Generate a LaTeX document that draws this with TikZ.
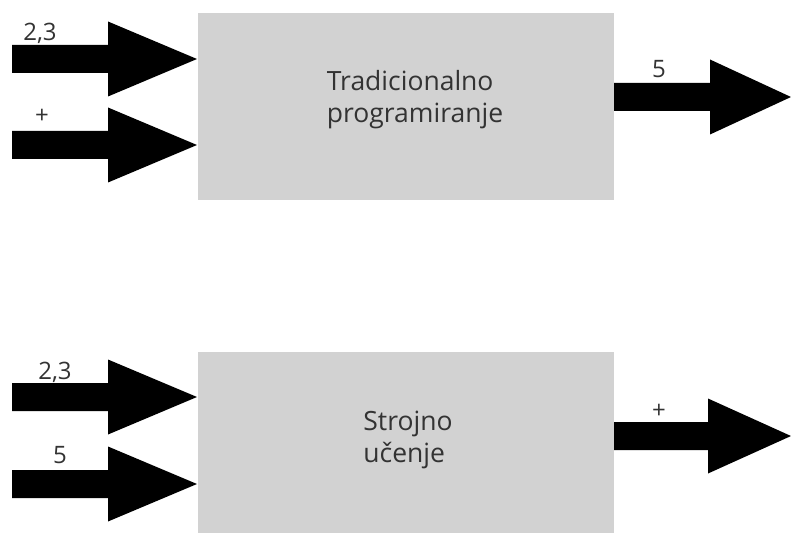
\documentclass[tikz,border=0pt]{standalone}
\usepackage{fontspec}
\setmainfont{Open Sans}
\usepackage{tikz}
\usepackage{xcolor}
\usetikzlibrary{positioning, calc}
\definecolor{boxgray}{RGB}{210,210,210}
\definecolor{textgray}{RGB}{51,51,51}

% block arrow from tail coordinate #2 to tip coordinate #3, head length #1
\newcommand{\blockarrow}[3][89]{%
  \fill[black] ($(#2)+(0,-14)$) -- ($(#3)+(-#1,-14)$) -- ($(#3)+(-#1,-37.5)$) -- (#3)
    -- ($(#3)+(-#1,37.5)$) -- ($(#3)+(-#1,14)$) -- ($(#2)+(0,14)$) -- cycle;}

\begin{document}
\begin{tikzpicture}[x=1pt, y=-1pt,
  procbox/.style={rectangle, fill=boxgray, draw=none, inner sep=0pt},
  boxtext/.style={align=left, text=textgray, font=\fontsize{26.5}{32}\selectfont},
  iolabel/.style={text=textgray, font=\fontsize{24}{28}\selectfont, inner sep=0pt}]
\useasboundingbox (0,0) rectangle (791,534);

% traditional programming
\node[procbox, minimum width=416pt, minimum height=187pt] (tradbox) at (406,106.5) {};
\node[boxtext] (tradtext) at (415,100) {Tradicionalno\\programiranje};
\coordinate (t-in1) at (12,59);
\coordinate (t-in2) at (12,145);
\coordinate (t-in1-tip) at (197,59);
\coordinate (t-in2-tip) at (197,145);
\coordinate (t-out-tail) at (tradbox.east |- 0,97);
\coordinate (t-out) at (791,97);
\blockarrow{t-in1}{t-in1-tip}
\blockarrow{t-in2}{t-in2-tip}
\blockarrow[81]{t-out-tail}{t-out}
\node[iolabel] (t-lab1) at (40,33) {2,3};
\node[iolabel] (t-lab2) at (42,116) {+};
\node[iolabel] (t-lab3) at (659,69) {5};

% machine learning
\node[procbox, minimum width=416pt, minimum height=181pt] (mlbox) at (406,442.5) {};
\node[boxtext] (mltext) at (408,440) {Strojno\\učenje};
\coordinate (m-in1) at (12,397);
\coordinate (m-in2) at (12,484);
\coordinate (m-in1-tip) at (197,397);
\coordinate (m-in2-tip) at (197,484);
\coordinate (m-out-tail) at (mlbox.east |- 0,436);
\coordinate (m-out) at (791,436);
\blockarrow{m-in1}{m-in1-tip}
\blockarrow{m-in2}{m-in2-tip}
\blockarrow[83]{m-out-tail}{m-out}
\node[iolabel] (m-lab1) at (55,372) {2,3};
\node[iolabel] (m-lab2) at (60,455) {5};
\node[iolabel] (m-lab3) at (659,411) {+};
\end{tikzpicture}
\end{document}
